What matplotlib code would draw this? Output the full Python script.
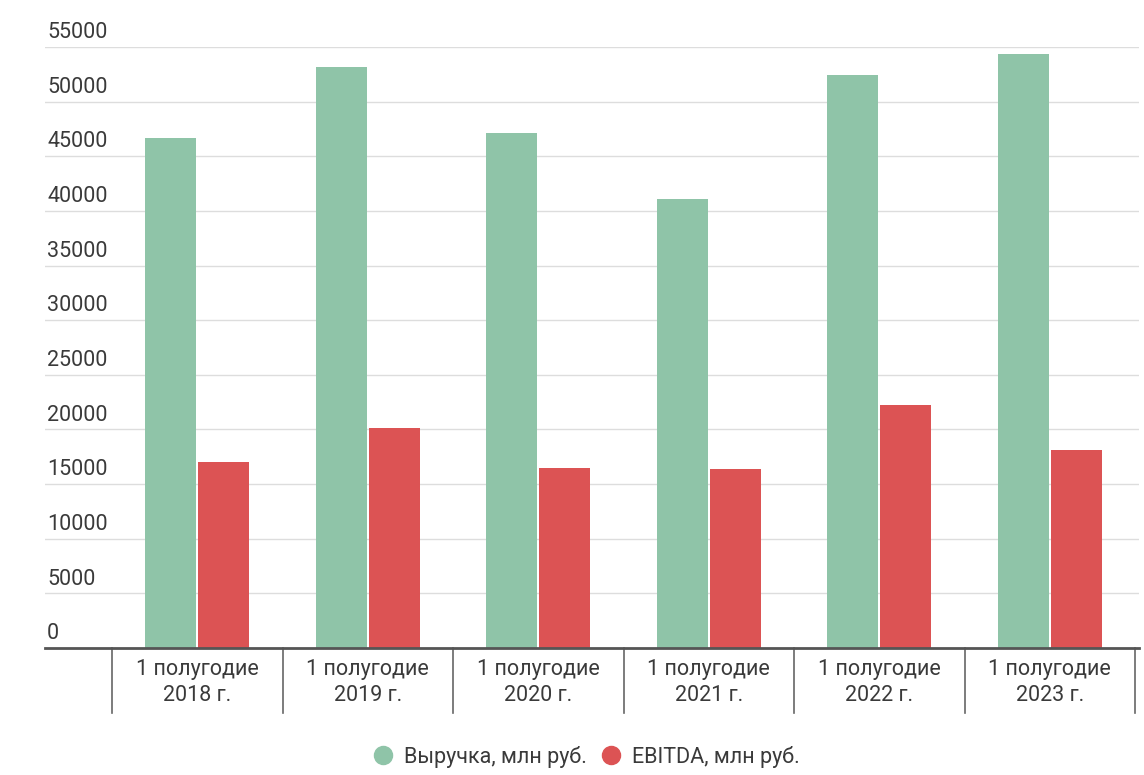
import numpy as np
import matplotlib.pyplot as plt
from matplotlib.lines import Line2D

plt.rcParams["font.family"] = ["Roboto", "DejaVu Sans"]

categories = ["1 полугодие\n2018 г.", "1 полугодие\n2019 г.", "1 полугодие\n2020 г.",
              "1 полугодие\n2021 г.", "1 полугодие\n2022 г.", "1 полугодие\n2023 г."]
revenue = [46700, 53200, 47100, 41100, 52400, 54400]
ebitda = [17000, 20100, 16500, 16400, 22200, 18100]
yticks = list(range(0, 55001, 5000))

green = "#8fc4a8"
red = "#dc5354"
text_color = "#3a3a3a"

fig = plt.figure(figsize=(11.44, 7.75), dpi=100)
ax = fig.add_axes([45 / 1144, 1 - 648 / 775, (1139 - 45) / 1144, (648 - 47) / 775])

x = np.arange(len(categories))
w = 0.3
ax.bar(x - 0.155, revenue, width=w, color=green, zorder=3)
ax.bar(x + 0.155, ebitda, width=w, color=red, zorder=3)

ax.set_xlim(-0.893, 5.523)
ax.set_ylim(0, 55000)

# gridlines and y labels sitting above them
for t in yticks:
    if t > 0:
        ax.axhline(t, color="#dddddd", linewidth=1, zorder=1)
    ax.text(0.002, t + 350, str(t), transform=ax.get_yaxis_transform(),
            ha="left", va="bottom", fontsize=15.5, color=text_color)

ax.set_xticks([])
ax.set_yticks([])
for s in ["top", "right", "left"]:
    ax.spines[s].set_visible(False)
ax.spines["bottom"].set_color("#555555")
ax.spines["bottom"].set_linewidth(2)
ax.spines["bottom"].set_zorder(4)

# category separators under the axis
sep_depth = -(713 - 648) / 601
for b in np.arange(len(categories) + 1) - 0.5:
    ax.plot([b, b], [0, sep_depth], transform=ax.get_xaxis_transform(),
            color="#666666", linewidth=1.2, clip_on=False)

for xi, lab in zip(x, categories):
    ax.text(xi, -0.018, lab, transform=ax.get_xaxis_transform(), ha="center",
            va="top", fontsize=15.5, color=text_color, linespacing=1.3)

handles = [Line2D([], [], marker="o", linestyle="", markersize=13, color=green),
           Line2D([], [], marker="o", linestyle="", markersize=13, color=red)]
fig.legend(handles, ["Выручка, млн руб.", "EBITDA, млн руб."], loc="center",
           bbox_to_anchor=(586 / 1144, 1 - 757 / 775), ncol=2, frameon=False,
           fontsize=15.5, labelcolor=text_color, handlelength=1.0,
           handletextpad=0.5, columnspacing=0.6)

fig.savefig("out.png", dpi=100)
